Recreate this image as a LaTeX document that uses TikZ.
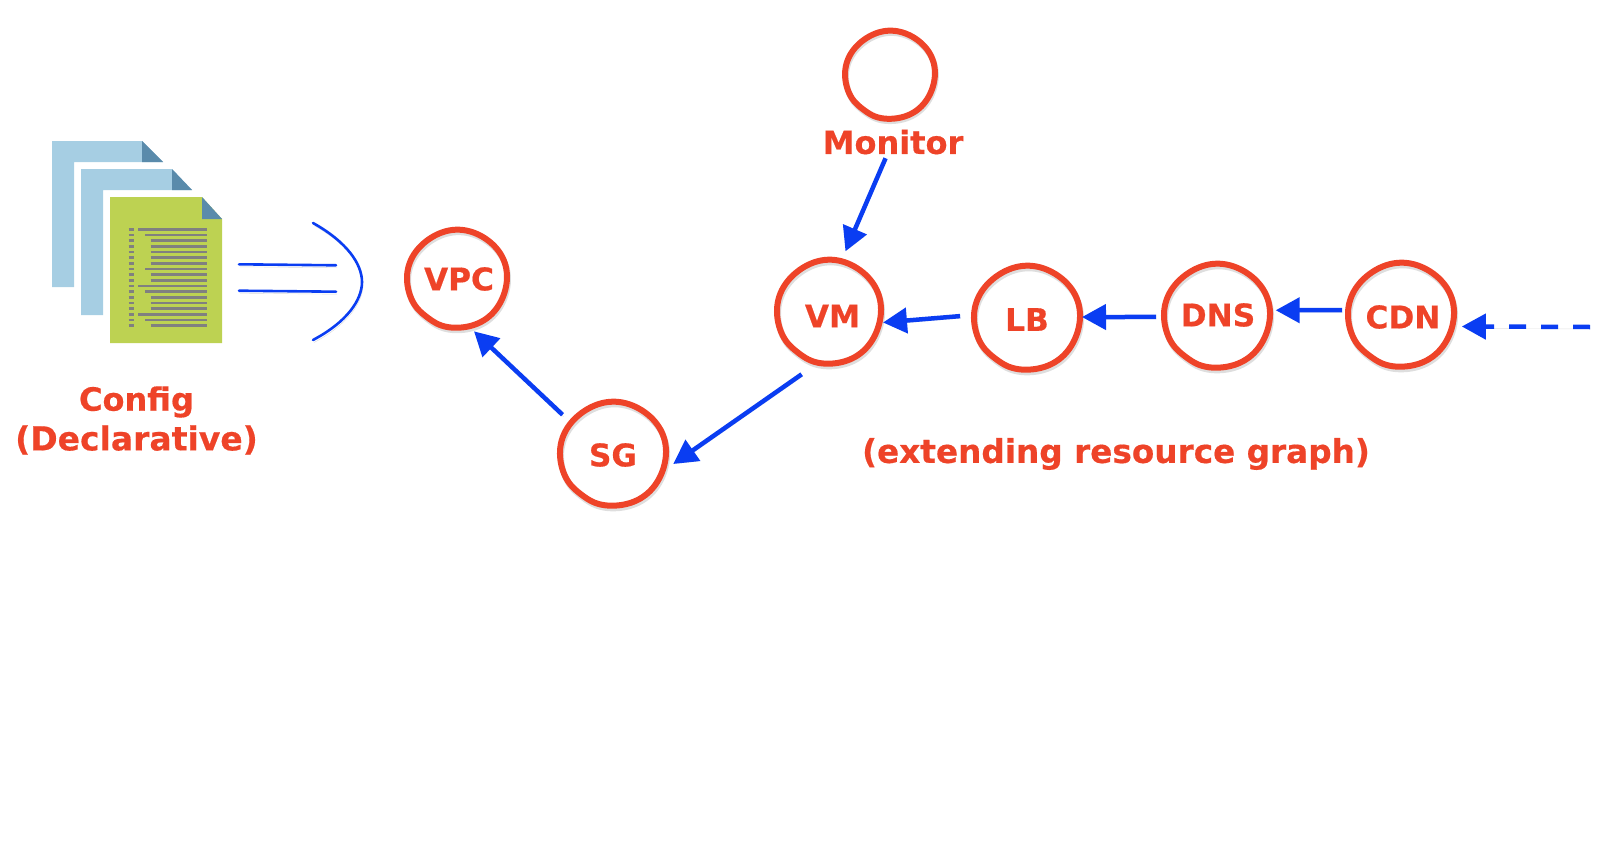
\documentclass[tikz,border=0pt]{standalone}
\usepackage{fontspec}
\setmainfont[BoldFeatures={FakeBold=0.5}]{DejaVu Sans}
\usetikzlibrary{arrows.meta}
\definecolor{redink}{HTML}{EE4328}
\definecolor{blueink}{HTML}{0A3DF2}
\definecolor{paleblue}{HTML}{A6CEE3}
\definecolor{foldblue}{HTML}{5A8BAB}
\definecolor{leafgreen}{HTML}{BDD252}
\definecolor{rowgray}{HTML}{808080}
\tikzset{
  x=1pt,y=-1pt,
  declare function={blobr(\t)=1+0.012*cos(2*\t+38)+0.006*cos(5*(\t-53))-0.03*exp(-((\t-128)/16)^2);},
  blobline/.style={draw=redink,line width=6pt,line join=round},
  blobshade/.style={draw=black!13,line width=6pt,line join=round},
  blob/.pic={
    \draw[blobshade,shift={(0.02,0.05)}] plot[domain=0:357,samples=120,variable=\t] ({blobr(\t)*cos(\t)},{blobr(\t)*sin(\t)}) -- cycle;
    \draw[blobline] plot[domain=0:357,samples=120,variable=\t] ({blobr(\t)*cos(\t)},{blobr(\t)*sin(\t)}) -- cycle;
  },
  hub/.style={circle,minimum size=110pt,inner sep=0pt,outer sep=0pt},
  hubtext/.style={inner sep=0pt,text=redink,font=\fontsize{31.2}{31}\selectfont\bfseries},
  bigtext/.style={inner sep=0pt,text=redink,font=\fontsize{32}{32}\selectfont\bfseries},
  arr/.style={draw=blueink,line width=4.5pt,-{Triangle[length=24pt,width=25pt]},
    preaction={draw=black!12,transform canvas={shift={(1pt,-2pt)}}}},
  thinblue/.style={draw=blueink,line width=2.6pt,line cap=round,
    preaction={draw=black!15,transform canvas={shift={(1pt,-2.5pt)}}}},
  paper/.style={fill=paleblue},
  fold/.style={fill=foldblue},
  row/.style={draw=rowgray,line width=2.6pt},
}
\begin{document}
\begin{tikzpicture}
\useasboundingbox (0,0) rectangle (1597,840);
% document stack
\fill[paper] (52,141) -- (142,141) -- (163,162) -- (74,162) -- (74,287) -- (52,287) -- cycle;
\fill[fold] (142,141) -- (142,162) -- (163,162) -- cycle;
\fill[paper] (81,169) -- (172,169) -- (192,190) -- (103,190) -- (103,315) -- (81,315) -- cycle;
\fill[fold] (172,169) -- (172,190) -- (192,190) -- cycle;
\fill[leafgreen] (110,197) -- (202,197) -- (222,219) -- (222,343) -- (110,343) -- cycle;
\fill[fold] (202,197) -- (202,219) -- (222,219) -- cycle;
\foreach \i/\s in {0/138,1/145,2/150.5,3/150.5,4/150.5,5/150.5,6/150.5,7/145,8/150.5,9/150.5,10/138,11/145,12/150.5,13/150.5,14/150.5,15/138,16/145,17/150.5}{
  \draw[row] (128.5,229.3+5.67*\i) -- (133.5,229.3+5.67*\i);
  \draw[row] (\s,229.3+5.67*\i) -- (206.7,229.3+5.67*\i);
}
% equals / bracket
\draw[thinblue] (239,264.3) -- (336,265.3);
\draw[thinblue] (239,290.7) -- (336,291.7);
\draw[thinblue] (313,223) .. controls (347,242) and (362,264) .. (362,282) .. controls (362,300) and (347,322) .. (313,340);
% anchors of the hand-drawn circles
\node[hub,minimum size=98pt] (mon) at (890,75) {};
\node[hub] (vpc) at (457,279) {};
\node[hub] (sg) at (613,454) {};
\node[hub] (vm) at (829,312) {};
\node[hub] (lb) at (1027,318) {};
\node[hub] (dns) at (1217,316) {};
\node[hub] (cdn) at (1401,315) {};
\coordinate (feed) at (1590,327);
% circles
\pic[xscale=44.5,yscale=44.5] at (mon) {blob};
\pic[xscale=49.5,yscale=49.5] at (vpc) {blob};
\pic[xscale=52.5,yscale=52.5] at (sg) {blob};
\pic[xscale=51.5,yscale=52.5] at (vm) {blob};
\pic[xscale=52.5,yscale=52.5] at (lb) {blob};
\pic[xscale=52.5,yscale=52.5] at (dns) {blob};
\pic[xscale=52.5,yscale=52.5] at (cdn) {blob};
% labels
\node[bigtext] (monlabel) at (893,142) {Monitor};
\node[hubtext] (vpclabel) at (459,279) {VPC};
\node[hubtext] (sglabel) at (613,455) {SG};
\node[hubtext] (vmlabel) at (832.5,316) {VM};
\node[hubtext] (lblabel) at (1027,319.5) {LB};
\node[hubtext] (dnslabel) at (1218,315) {DNS};
\node[hubtext] (cdnlabel) at (1403,317) {CDN};
\node[bigtext] (config) at (136.5,402) {Config};
\node[bigtext,font=\fontsize{33}{33}\selectfont\bfseries] (decl) at (136.5,440) {(Declarative)};
\node[bigtext,font=\fontsize{32.7}{33}\selectfont\bfseries] (extend) at (1116,454) {(extending resource graph)};
% connectors
\draw[arr,shorten <=4pt,shorten >=8pt] (monlabel.-115) -- (vm.76);
\draw[arr,shorten <=12pt] (lb.177) -- (vm.-11);
\draw[arr,shorten <=6pt] (dns.181) -- (lb.1);
\draw[arr,shorten <=4pt,shorten >=4pt] (cdn.175) -- (dns.6);
\draw[arr,dash pattern=on 17pt off 15pt,shorten >=7pt] (feed) -- (cdn.-12);
\draw[arr,shorten <=16pt,shorten >=9pt] (vm.255) -- (sg.-16);
\draw[arr,shorten <=9pt] (sg.143) -- (vpc.-72);
\end{tikzpicture}
\end{document}
